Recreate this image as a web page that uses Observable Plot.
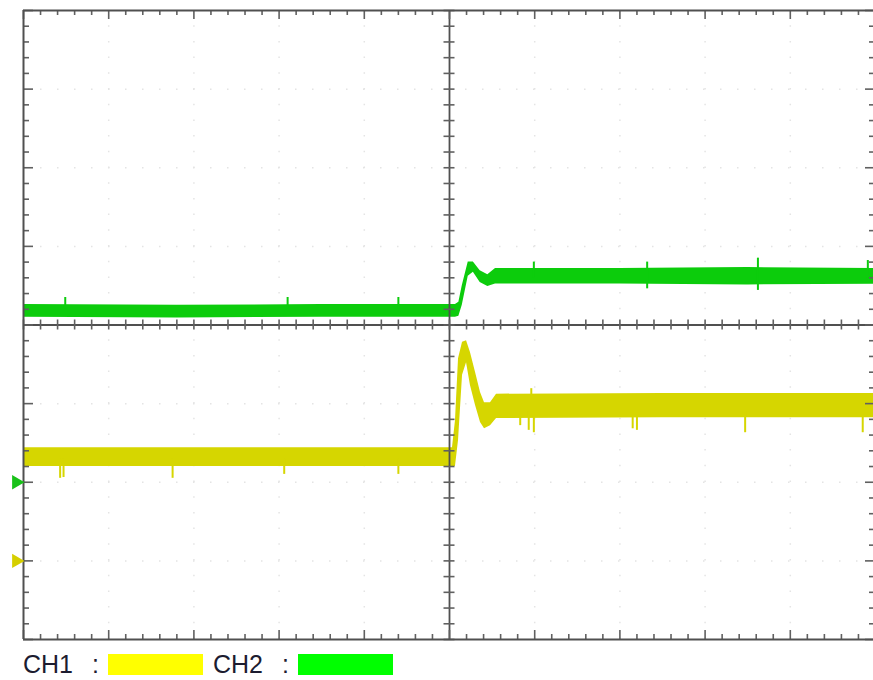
<!DOCTYPE html>
<html><head><meta charset="utf-8">
<script src="https://cdn.jsdelivr.net/npm/d3@7"></script>
<script src="https://cdn.jsdelivr.net/npm/@observablehq/plot@0.6"></script>
<style>
body{margin:0;background:#fff;font-family:"Liberation Sans",Arial,sans-serif;}
#wrap{position:relative;width:873px;height:680px;overflow:hidden;}
#wrap svg{position:absolute;left:0;top:0;}
.lt{position:absolute;top:652px;font-size:25px;line-height:1;color:#1c1c30;white-space:pre;}
.sw{position:absolute;top:654px;height:21px;}
</style></head><body><div id="wrap"></div>
<script>
// Time axis in screen divisions (-5..5), amplitude in screen divisions (-4..4)

// CH2 (green) envelope of the noisy trace
const ch2T  = [-5, -3.2, -1.5, 0.07, 0.11, 0.15, 0.22, 0.28, 0.36, 0.45, 0.54, 2.0, 3.5, 5];
const ch2Hi = [0.26, 0.25, 0.26, 0.26, 0.29, 0.50, 0.80, 0.80, 0.69, 0.64, 0.72, 0.72, 0.73, 0.72];
const ch2Lo = [0.10, 0.09, 0.10, 0.10, 0.11, 0.25, 0.62, 0.67, 0.54, 0.49, 0.52, 0.52, 0.51, 0.52];
// CH2 glitches
const ch2SpikeT  = [-4.51, -1.90, -0.60, 0.99, 2.32, 3.62, 4.91];
const ch2SpikeLo = [0.20, 0.20, 0.20, 0.60, 0.46, 0.44, 0.60];
const ch2SpikeHi = [0.35, 0.35, 0.35, 0.80, 0.80, 0.85, 0.82];

// CH1 (yellow) envelope of the noisy trace
const ch1T  = [-5, -2.5, 0.035, 0.07, 0.106, 0.153, 0.20, 0.246, 0.305, 0.364, 0.411, 0.481, 0.552, 2.5, 5];
const ch1Hi = [-1.56, -1.56, -1.56, -1.22, -0.43, -0.22, -0.20, -0.35, -0.60, -0.86, -0.99, -0.99, -0.88, -0.87, -0.87];
const ch1Lo = [-1.80, -1.80, -1.80, -1.80, -1.47, -0.64, -0.48, -0.77, -1.02, -1.24, -1.32, -1.28, -1.19, -1.18, -1.18];
// CH1 glitches
const ch1SpikeT  = [-4.57, -4.53, -3.25, -1.94, -0.60, 0.83, 0.93, 0.99, 0.96, 2.15, 2.20, 3.47, 4.85];
const ch1SpikeLo = [-1.95, -1.94, -1.95, -1.90, -1.90, -1.28, -1.34, -1.37, -1.00, -1.32, -1.34, -1.37, -1.37];
const ch1SpikeHi = [-1.70, -1.70, -1.70, -1.70, -1.70, -1.10, -1.10, -1.10, -0.81, -1.10, -1.10, -1.10, -1.10];

// Channel ground markers
const markerLevels = [-2, -3];
const markerColors = ["#19c119", "#d6cf00"];

// Legend
const legendLabels = ["CH1", "CH2"];
const legendColors = ["#ffff00", "#00ff00"];

const ch2 = ch2T.map((t, i) => ({t, lo: ch2Lo[i], hi: ch2Hi[i]}));
const ch1 = ch1T.map((t, i) => ({t, lo: ch1Lo[i], hi: ch1Hi[i]}));
const s2 = ch2SpikeT.map((t, i) => ({t, lo: ch2SpikeLo[i], hi: ch2SpikeHi[i]}));
const s1 = ch1SpikeT.map((t, i) => ({t, lo: ch1SpikeLo[i], hi: ch1SpikeHi[i]}));
const markers = markerLevels.map((v, i) => ({v, c: markerColors[i]}));

// graticule
const pxX = 85.2, pxY = 78.6;
const tx = d3.range(-25, 26).map(i => ({v: i / 5, major: i % 5 === 0}));
const ty = d3.range(-20, 21).map(i => ({v: i / 5, major: i % 5 === 0}));
const lenX = d => (d.major ? 9 : 5) / pxY;
const lenY = d => (d.major ? 10 : 6) / pxX;
const gridDots = d3.range(-4, 5).filter(v => v !== 0);
const gridDotsY = d3.range(-3, 4).filter(v => v !== 0);
const axc = "#505050";

const chart = Plot.plot({
  width: 873, height: 645,
  marginLeft: 23, marginRight: 0, marginTop: 10, marginBottom: 6,
  x: {domain: [-5, 5], range: [23, 875], axis: null},
  y: {domain: [-4, 4], range: [639, 10], axis: null},
  marks: [
    Plot.ruleX(gridDots, {x: d => d, y1: -4, y2: 4, stroke: "#e4e4e4", strokeWidth: 1.5, strokeDasharray: "1.5,14.2"}),
    Plot.ruleY(gridDotsY, {y: d => d, x1: -5, x2: 5, stroke: "#e4e4e4", strokeWidth: 1.5, strokeDasharray: "1.5,15.5"}),
    Plot.areaY(ch2, {x: "t", y1: "lo", y2: "hi", fill: "#0ccc0c"}),
    Plot.ruleX(s2, {x: "t", y1: "lo", y2: "hi", stroke: "#0ccc0c", strokeWidth: 2}),
    Plot.areaY(ch1, {x: "t", y1: "lo", y2: "hi", fill: "#d6d600"}),
    Plot.ruleX(s1, {x: "t", y1: "lo", y2: "hi", stroke: "#d6d600", strokeWidth: 2}),
    // center lines
    Plot.ruleX([0], {y1: -4, y2: 4, stroke: axc, strokeWidth: 1.8}),
    Plot.ruleY([0], {x1: -5, x2: 5, stroke: axc, strokeWidth: 1.8}),
    // ticks on edges
    Plot.ruleX(tx, {x: "v", y1: 4, y2: d => 4 - lenX(d), stroke: "#606060", strokeWidth: 1.6}),
    Plot.ruleX(tx, {x: "v", y1: -4, y2: d => -4 + lenX(d), stroke: "#606060", strokeWidth: 1.6}),
    Plot.ruleX(tx, {x: "v", y1: -5 / pxY, y2: 5 / pxY, stroke: "#606060", strokeWidth: 1.6}),
    Plot.ruleY(ty, {y: "v", x1: -5, x2: d => -5 + lenY(d), stroke: "#606060", strokeWidth: 1.6}),
    Plot.ruleY(ty, {y: "v", x1: 5, x2: d => 5 - lenY(d), stroke: "#606060", strokeWidth: 1.6}),
    Plot.ruleY(ty, {y: "v", x1: -5.5 / pxX, x2: 5.5 / pxX, stroke: "#606060", strokeWidth: 1.6}),
    // frame
    Plot.ruleX([-5, 5], {y1: -4, y2: 4, stroke: axc, strokeWidth: 2}),
    Plot.ruleY([-4, 4], {x1: -5, x2: 5, stroke: axc, strokeWidth: 2}),
    // ground markers
    Plot.dot([markers[0]], {x: () => -5.085, y: "v", symbol: "triangle", rotate: 90, r: 5.3, fill: markerColors[0], stroke: "none"}),
    Plot.dot([markers[1]], {x: () => -5.085, y: "v", symbol: "triangle", rotate: 90, r: 5.3, fill: markerColors[1], stroke: "none"})
  ]
});
const wrap = document.getElementById("wrap");
wrap.appendChild(chart);

// legend below the chart
const textX = [[23, 92], [213, 282]];
const swatchX = [[108, 203], [298, 393]];
legendLabels.forEach((lab, i) => {
  const a = document.createElement("span");
  a.className = "lt"; a.style.left = textX[i][0] + "px"; a.textContent = lab;
  const b = document.createElement("span");
  b.className = "lt"; b.style.left = textX[i][1] + "px"; b.textContent = ":";
  const s = document.createElement("span");
  s.className = "sw"; s.style.left = swatchX[i][0] + "px";
  s.style.width = (swatchX[i][1] - swatchX[i][0]) + "px";
  s.style.background = legendColors[i];
  wrap.append(a, b, s);
});
</script></body></html>
